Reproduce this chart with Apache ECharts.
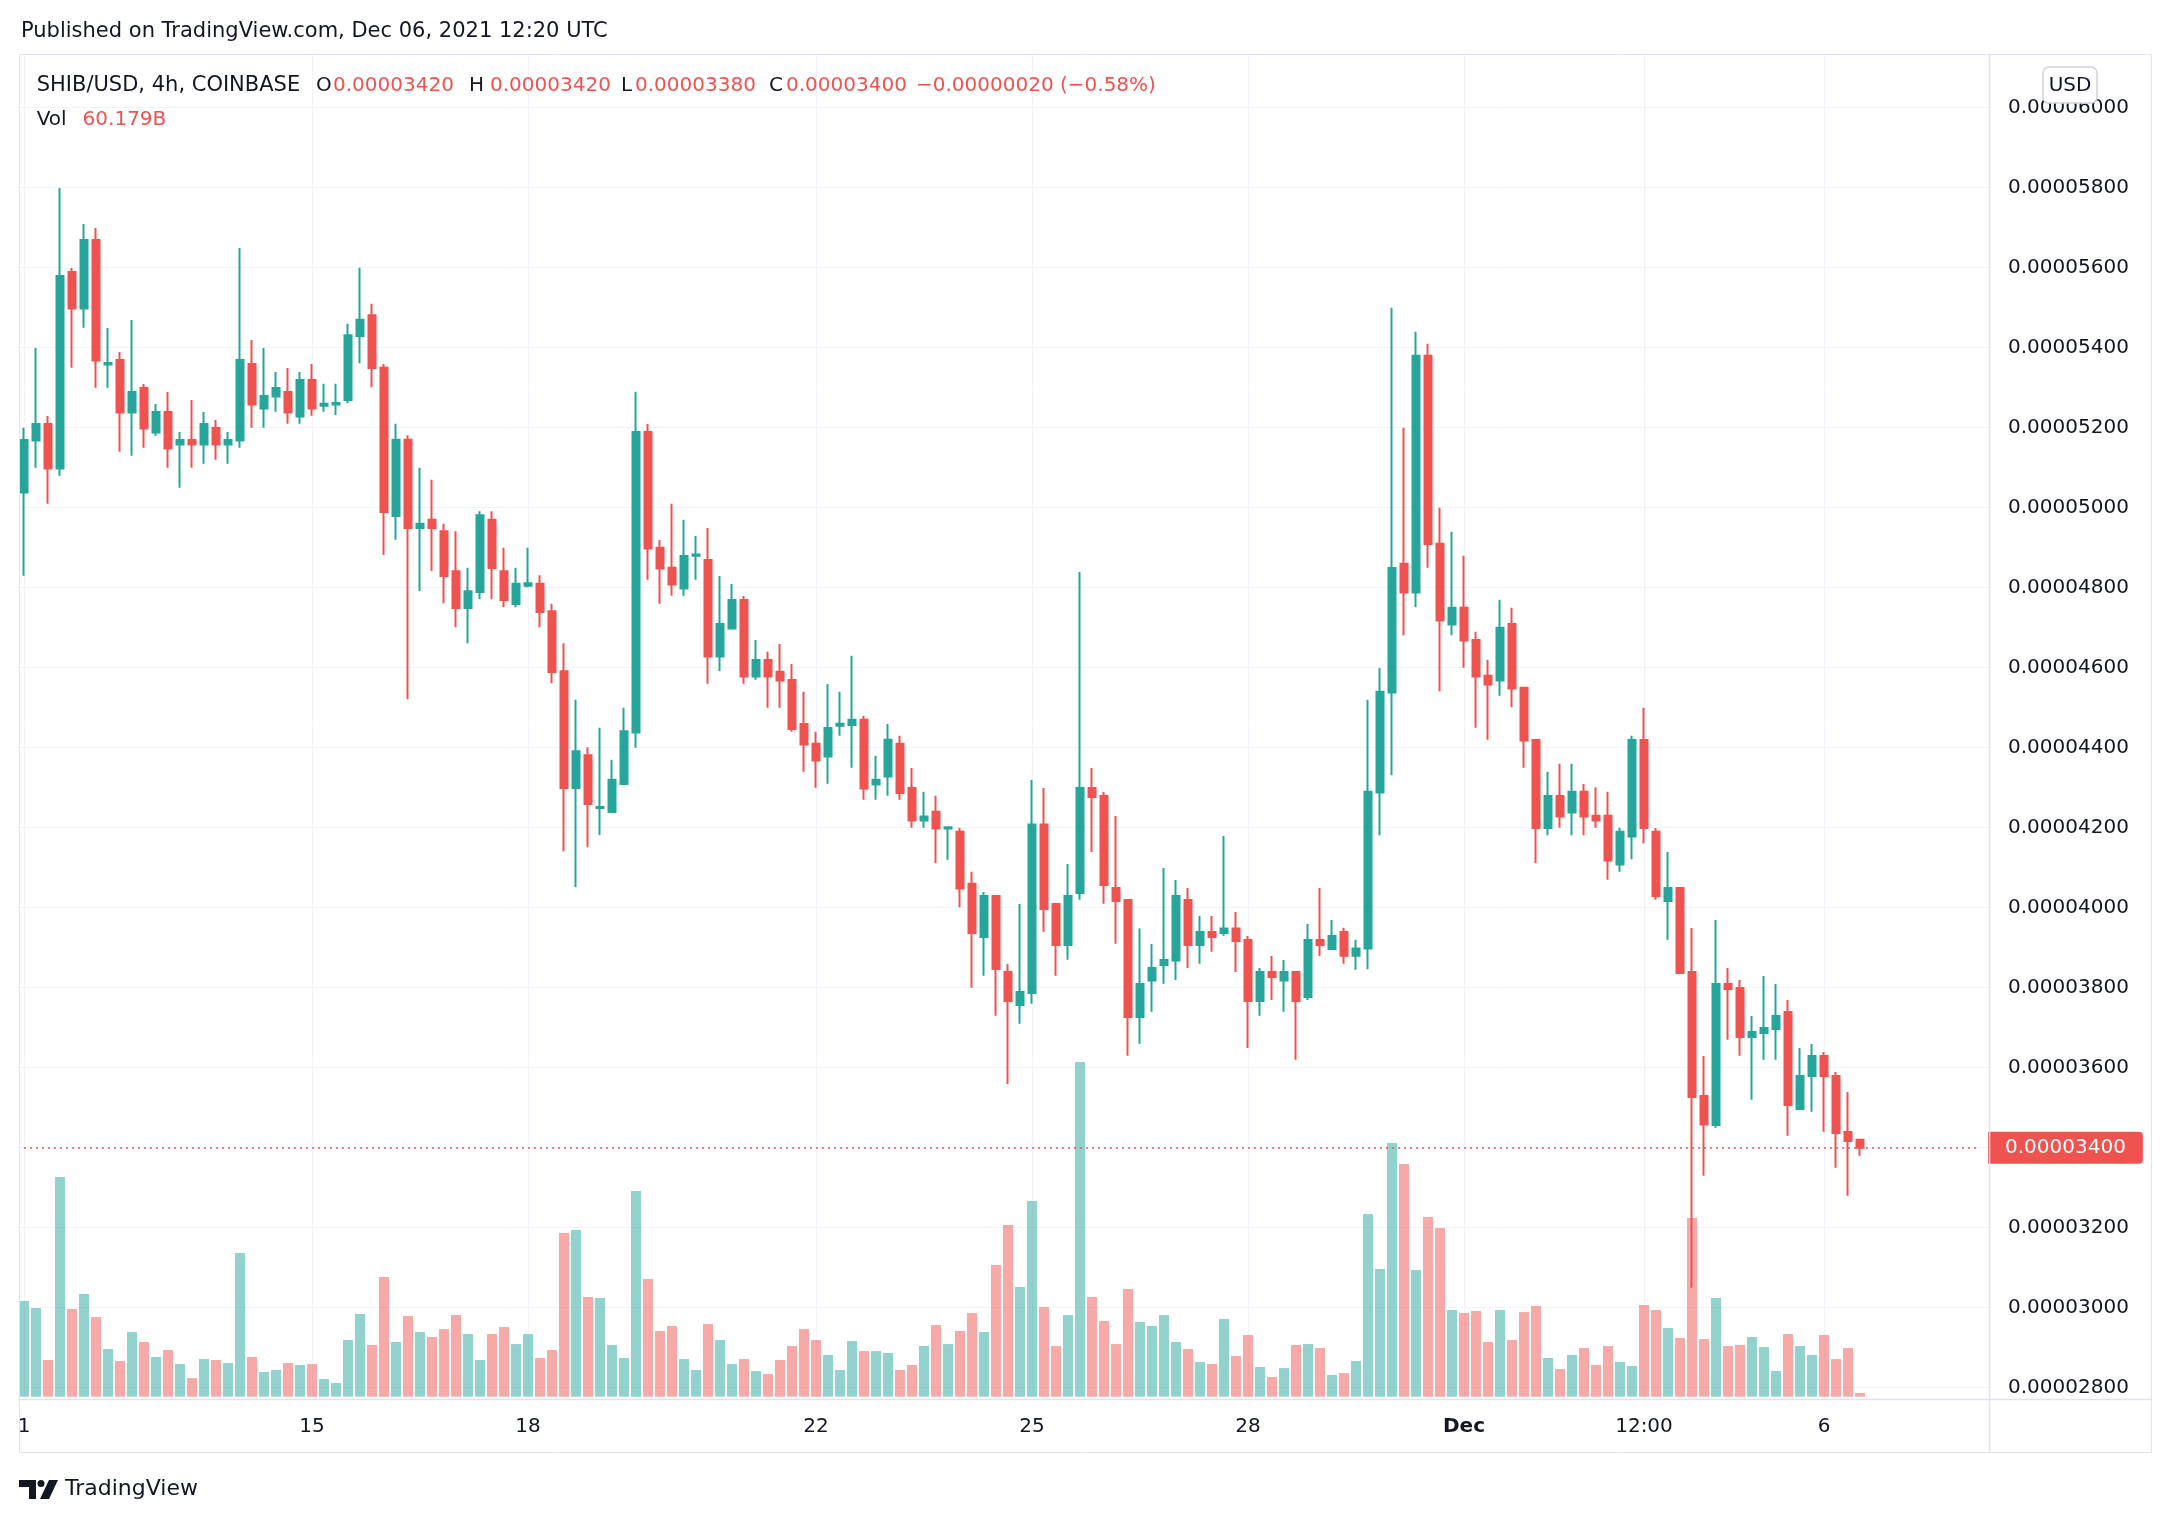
<!DOCTYPE html>
<html><head><meta charset="utf-8">
<script src="https://cdn.jsdelivr.net/npm/echarts@6/dist/echarts.min.js"></script>
<style>html,body{margin:0;padding:0;background:#fff}#c{width:2172px;height:1524px}</style>
</head><body><div id="c"></div>
<script>
// Prices in units of 1e-8 USD (SHIB/USD, 4h candles)
const open = [
5038,5168,5209,5098,5589,5498,5669,5358,5369,5238,
5299,5188,5239,5158,5169,5158,5199,5158,5168,5359,
5248,5278,5289,5228,5319,5255,5258,5269,5429,5481,
5350,4979,5170,4949,4970,4941,4841,4749,4789,4970,
4841,4759,4805,4810,4741,4591,4299,4381,4249,4239,
4309,4438,5189,4900,4850,4798,4880,4869,4628,4698,
4769,4578,4619,4590,4569,4459,4410,4378,4455,4457,
4470,4308,4328,4410,4299,4218,4240,4198,4190,4060,
3927,4029,3839,3757,3787,4208,4009,3907,4037,4299,
4279,4049,4019,3727,3818,3857,3868,4019,3907,3939,
3937,3948,3919,3767,3839,3818,3839,3777,3919,3897,
3939,3880,3898,4288,4538,4860,4788,5380,4910,4708,
4750,4669,4580,4568,4709,4550,4419,4199,4279,4238,
4290,4230,4230,4108,4178,4419,4190,4017,4049,3839,
3529,3457,3809,3799,3677,3687,3697,3739,3497,3579,
3629,3579,3439,3420];
const high = [
5200,5399,5229,5799,5599,5709,5699,5449,5389,5469,
5309,5259,5289,5189,5269,5239,5219,5189,5649,5419,
5399,5339,5349,5339,5359,5310,5310,5460,5600,5510,
5359,5210,5181,5100,5070,4960,4941,4850,4991,4991,
4900,4850,4900,4831,4760,4661,4520,4401,4450,4370,
4500,5290,5209,4919,5010,4970,4929,4949,4829,4809,
4779,4669,4640,4659,4609,4540,4440,4559,4540,4630,
4480,4380,4459,4430,4349,4290,4280,4201,4200,4090,
4039,4029,3859,4009,4319,4299,4009,4109,4839,4349,
4289,4229,4019,3948,3909,4099,4069,4049,3979,3979,
4179,3989,3929,3849,3879,3869,3839,3959,4049,3969,
3950,3920,4520,4599,5500,5200,5440,5410,5000,4940,
4880,4690,4620,4770,4750,4550,4419,4340,4360,4360,
4309,4301,4290,4200,4430,4500,4199,4139,4049,3949,
3629,3969,3849,3819,3729,3829,3809,3769,3649,3659,
3639,3589,3539,3420];
const low = [
4830,5100,5010,5080,5350,5450,5300,5300,5140,5130,
5150,5180,5100,5050,5100,5110,5120,5110,5150,5200,
5200,5240,5210,5210,5230,5240,5232,5261,5361,5301,
4882,4920,4521,4792,4842,4761,4701,4661,4771,4771,
4751,4751,4801,4701,4561,4141,4051,4151,4182,4239,
4309,4400,4820,4760,4780,4780,4820,4560,4591,4698,
4560,4570,4500,4500,4440,4340,4300,4310,4430,4350,
4270,4270,4280,4270,4200,4200,4111,4120,4001,3800,
3830,3730,3559,3710,3760,3940,3830,3870,4020,4139,
4010,3910,3630,3660,3740,3810,3819,3849,3860,3890,
3930,3839,3649,3730,3769,3740,3620,3769,3879,3897,
3860,3845,3846,4181,4331,4681,4751,4850,4541,4681,
4600,4450,4420,4530,4501,4350,4111,4181,4200,4181,
4181,4200,4070,4090,4121,4161,4020,3920,3837,3050,
3330,3450,3670,3630,3520,3620,3620,3430,3497,3490,
3440,3350,3280,3380];
const close = [
5169,5209,5098,5579,5498,5669,5368,5362,5238,5289,
5198,5239,5148,5169,5158,5209,5158,5169,5369,5258,
5279,5299,5238,5319,5248,5260,5262,5431,5470,5349,
4989,5170,4949,4960,4949,4829,4749,4791,4981,4849,
4769,4810,4811,4739,4589,4299,4391,4259,4252,4320,
4441,5189,4898,4848,4808,4879,4883,4628,4709,4769,
4578,4619,4578,4568,4447,4408,4368,4449,4460,4470,
4298,4320,4420,4287,4218,4228,4198,4201,4048,3937,
4029,3847,3767,3789,4208,3997,3907,4029,4299,4277,
4057,4017,3727,3809,3849,3869,4029,3907,3939,3927,
3948,3917,3767,3839,3827,3839,3767,3919,3907,3929,
3880,3898,4290,4540,4849,4788,5380,4909,4718,4750,
4668,4578,4558,4700,4548,4418,4199,4279,4228,4290,
4228,4218,4118,4190,4419,4199,4029,4049,3837,3527,
3458,3809,3797,3677,3689,3699,3729,3507,3579,3629,
3579,3437,3417,3400];
// Volume in billions of SHIB
const volume = [
1570,1455,602,3605,1439,1685,1307,782,585,1061,
897,651,766,536,306,618,602,552,2358,651,
405,438,552,520,536,290,224,930,1357,848,
1964,897,1324,1061,979,1110,1340,1028,602,1028,
1143,864,1028,635,766,2686,2735,1636,1619,848,
635,3375,1931,1078,1160,618,438,1192,930,536,
618,421,372,602,831,1110,930,684,438,913,
749,749,717,438,520,831,1176,864,1078,1373,
1061,2161,2817,1800,3211,1471,831,1340,5492,1636,
1242,864,1767,1225,1160,1340,897,782,569,536,
1275,667,1012,487,323,470,848,864,799,356,
388,585,2998,2095,4163,3818,2079,2948,2768,1422,
1373,1406,897,1422,930,1389,1488,635,454,684,
799,520,831,569,503,1504,1422,1127,963,2932,
946,1619,831,848,979,815,421,1028,831,684,
1012,618,799,60.179];
// Time axis: bar slots (154 candles + empty space on the right) and tick labels
const SLOTS = 164;
const categories = Array.from({length: SLOTS}, (_, i) => String(i));
const tickLabels = [[0,'1'],[24,'15'],[42,'18'],[66,'22'],[84,'25'],[102,'28'],[120,'Dec'],[135,'12:00'],[150,'6']];
const priceMin = 2800, priceMax = 6000, priceStep = 200;

const UP = '#26a69a', DOWN = '#ef5350';
const UPV = 'rgba(38,166,154,0.5)', DOWNV = 'rgba(239,83,80,0.5)';
const FONT = 'DejaVu Sans';
const TXT = '#131722';
const GRIDC = '#f0f3fa', FRAME = '#e0e3eb';
const tickMap = new Map(tickLabels);
const fmt = v => (v / 1e8).toFixed(8);

const candleData = open.map((o, i) => [o, close[i], low[i], high[i]]);
const volData = volume.map((v, i) => ({value: v, itemStyle: {color: close[i] >= open[i] ? UPV : DOWNV}}));
const last = close.length - 1;

const chart = echarts.init(document.getElementById('c'), null, {renderer: 'canvas'});

function txt(x, y, text, color, size, weight) {
  return {type: 'text', x: x, y: y, z: 50, silent: true,
    style: {text: text, fill: color, fontSize: size || 20, fontFamily: FONT, fontWeight: weight || 'normal', verticalAlign: 'middle', align: 'left'}};
}

const option = {
  animation: false,
  backgroundColor: '#ffffff',
  textStyle: {fontFamily: FONT},
  grid: [
    {left: 19, right: 183, top: 107.7, bottom: 136.3},
    {left: 24, right: 192, top: 54, bottom: 125},
    {left: 24, right: 192, top: 994.5, bottom: 127.3}
  ],
  xAxis: [
    {gridIndex: 0, type: 'value', min: 0, max: 1, show: false},
    {gridIndex: 1, type: 'category', data: categories, boundaryGap: false,
      axisLine: {show: false}, axisTick: {show: false},
      axisLabel: {
        interval: (i) => tickMap.has(i),
        formatter: (v) => { const s = tickMap.get(Number(v)) || ''; return s === 'Dec' ? '{b|Dec}' : s; },
        rich: {b: {fontWeight: 'bold', fontSize: 20, fontFamily: FONT, color: TXT}},
        color: TXT, fontSize: 20, fontFamily: FONT, margin: 18
      },
      splitLine: {show: true, interval: (i) => tickMap.has(i), lineStyle: {color: GRIDC, width: 1}}
    },
    {gridIndex: 2, type: 'category', data: categories, boundaryGap: false, show: false}
  ],
  yAxis: [
    {gridIndex: 0, type: 'value', position: 'right', min: priceMin, max: priceMax, interval: priceStep,
      axisLine: {show: false}, axisTick: {show: false},
      axisLabel: {margin: 19, color: TXT, fontSize: 20, fontFamily: FONT, formatter: fmt},
      splitLine: {show: true, lineStyle: {color: GRIDC, width: 1}}
    },
    {gridIndex: 1, type: 'value', min: 2771.75, max: 6134.25, show: false},
    {gridIndex: 2, type: 'value', min: 0, max: 6600, show: false}
  ],
  series: [
    {type: 'bar', xAxisIndex: 2, yAxisIndex: 2, data: volData, barWidth: 10, clip: false, z: 1, silent: true},
    {type: 'candlestick', xAxisIndex: 1, yAxisIndex: 1, data: candleData, barWidth: 8, clip: false, z: 3, silent: true,
      itemStyle: {color: UP, color0: DOWN, borderColor: UP, borderColor0: DOWN, borderWidth: 2},
      markLine: {symbol: ['none', 'none'], silent: true, animation: false,
        data: [{yAxis: close[last]}],
        lineStyle: {color: DOWN, type: [2, 4], width: 1.5},
        label: {show: true, position: 'end', distance: 8, formatter: () => fmt(close[last]),
          backgroundColor: DOWN, color: '#ffffff', fontFamily: FONT, fontSize: 20,
          padding: [6, 17, 6, 17], borderRadius: [0, 4, 4, 0]}
      }
    }
  ],
  graphic: [
    {type: 'rect', silent: true, z: 40, shape: {x: 19.5, y: 54.5, width: 2132, height: 1398}, style: {fill: 'none', stroke: FRAME, lineWidth: 1}},
    {type: 'line', silent: true, z: 40, shape: {x1: 1989.5, y1: 54, x2: 1989.5, y2: 1453}, style: {stroke: FRAME, lineWidth: 1.5}},
    {type: 'line', silent: true, z: 40, shape: {x1: 19, y1: 1399.5, x2: 2152, y2: 1399.5}, style: {stroke: FRAME, lineWidth: 1.5}},
    txt(21, 31.7, 'Published on TradingView.com, Dec 06, 2021 12:20 UTC', TXT, 21),
    txt(36.7, 85.7, 'SHIB/USD, 4h, COINBASE', TXT, 21),
    txt(316, 85.7, 'O', TXT, 20), txt(333, 85.7, fmt(open[last]), DOWN, 20),
    txt(469, 85.7, 'H', TXT, 20), txt(490, 85.7, fmt(high[last]), DOWN, 20),
    txt(621, 85.7, 'L', TXT, 20), txt(635, 85.7, fmt(low[last]), DOWN, 20),
    txt(769, 85.7, 'C', TXT, 20), txt(786, 85.7, fmt(close[last]), DOWN, 20),
    txt(916, 85.7, '\u2212' + ((open[last] - close[last]) / 1e8).toFixed(8) + ' (\u2212' + ((open[last] - close[last]) / open[last] * 100).toFixed(2) + '%)', DOWN, 20),
    txt(36.7, 120, 'Vol', TXT, 20), txt(82.6, 120, volume[last].toFixed(3) + 'B', DOWN, 20),
    {type: 'rect', silent: true, z: 60, shape: {x: 2043, y: 67, width: 54, height: 36, r: 6}, style: {fill: '#ffffff', stroke: '#d1d4dc', lineWidth: 1.5}},
    {type: 'text', silent: true, z: 61, x: 2070, y: 85.5, style: {text: 'USD', fill: TXT, fontSize: 20, fontFamily: FONT, align: 'center', verticalAlign: 'middle'}},
    {type: 'polygon', silent: true, z: 50, shape: {points: [[19,1480],[36,1480],[36,1499],[29,1499],[29,1487],[19,1487]]}, style: {fill: TXT}},
    {type: 'circle', silent: true, z: 50, shape: {cx: 41, cy: 1483.5, r: 3.5}, style: {fill: TXT}},
    {type: 'polygon', silent: true, z: 50, shape: {points: [[49,1480],[58,1480],[49,1499],[40,1499]]}, style: {fill: TXT}},
    {type: 'text', silent: true, z: 50, x: 65, y: 1489, style: {text: 'TradingView', fill: TXT, fontSize: 22, fontFamily: FONT, verticalAlign: 'middle', align: 'left'}}
  ]
};
chart.setOption(option);
</script>
</body></html>
